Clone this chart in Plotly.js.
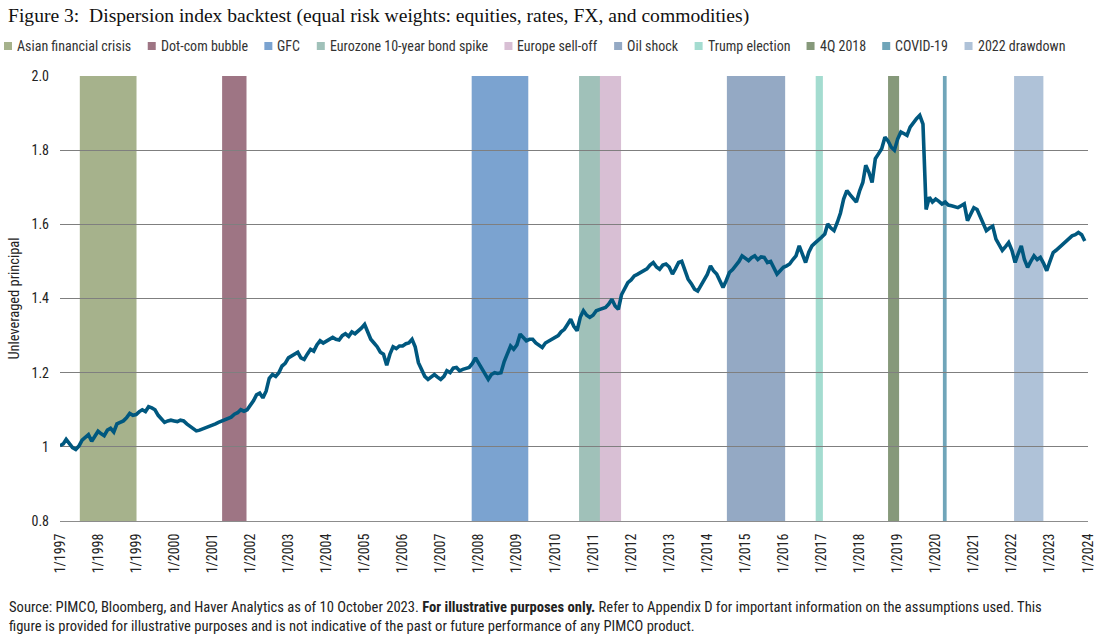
<!DOCTYPE html>
<html><head><meta charset="utf-8">
<script src="https://cdn.plot.ly/plotly-3.0.1.min.js"></script>
<style>html,body{margin:0;padding:0;background:#fff;}#chart{width:1100px;height:640px;}</style>
</head><body><div id="chart"></div>
<script>
// ---- data: monthly values (Jan..Dec) ----
const v1997 = [1.003, 1.008, 1.02, 1.01, 0.998, 0.993, 1.002, 1.018, 1.025, 1.033, 1.015, 1.03];
const v1998 = [1.042, 1.035, 1.03, 1.045, 1.05, 1.04, 1.062, 1.066, 1.07, 1.078, 1.09, 1.085];
const v1999 = [1.087, 1.095, 1.1, 1.095, 1.108, 1.105, 1.1, 1.085, 1.075, 1.066, 1.07, 1.072];
const v2000 = [1.07, 1.068, 1.072, 1.07, 1.062, 1.056, 1.05, 1.043, 1.045, 1.048, 1.052, 1.056];
const v2001 = [1.058, 1.062, 1.066, 1.07, 1.072, 1.076, 1.08, 1.088, 1.092, 1.1, 1.096, 1.1];
const v2002 = [1.112, 1.125, 1.14, 1.145, 1.132, 1.15, 1.185, 1.195, 1.19, 1.2, 1.218, 1.225];
const v2003 = [1.24, 1.245, 1.25, 1.255, 1.24, 1.236, 1.25, 1.263, 1.258, 1.275, 1.286, 1.28];
const v2004 = [1.285, 1.29, 1.295, 1.29, 1.288, 1.3, 1.305, 1.298, 1.31, 1.305, 1.312, 1.32];
const v2005 = [1.33, 1.31, 1.29, 1.28, 1.27, 1.255, 1.25, 1.22, 1.25, 1.27, 1.265, 1.272];
const v2006 = [1.272, 1.278, 1.28, 1.29, 1.27, 1.227, 1.21, 1.19, 1.182, 1.19, 1.195, 1.188];
const v2007 = [1.182, 1.19, 1.205, 1.2, 1.212, 1.214, 1.205, 1.209, 1.212, 1.214, 1.225, 1.24];
const v2008 = [1.225, 1.21, 1.195, 1.182, 1.195, 1.2, 1.198, 1.2, 1.23, 1.25, 1.272, 1.263];
const v2009 = [1.275, 1.304, 1.295, 1.286, 1.29, 1.29, 1.28, 1.275, 1.268, 1.28, 1.285, 1.29];
const v2010 = [1.295, 1.3, 1.31, 1.317, 1.33, 1.344, 1.325, 1.313, 1.35, 1.367, 1.355, 1.349];
const v2011 = [1.355, 1.367, 1.37, 1.372, 1.376, 1.385, 1.398, 1.38, 1.371, 1.41, 1.425, 1.443];
const v2012 = [1.45, 1.461, 1.465, 1.47, 1.475, 1.48, 1.49, 1.497, 1.485, 1.479, 1.49, 1.493];
const v2013 = [1.485, 1.466, 1.48, 1.497, 1.5, 1.475, 1.452, 1.44, 1.425, 1.42, 1.435, 1.452];
const v2014 = [1.465, 1.488, 1.475, 1.466, 1.45, 1.43, 1.448, 1.47, 1.478, 1.488, 1.5, 1.515];
const v2015 = [1.508, 1.502, 1.51, 1.515, 1.505, 1.512, 1.511, 1.497, 1.5, 1.485, 1.466, 1.475];
const v2016 = [1.484, 1.488, 1.493, 1.505, 1.515, 1.542, 1.52, 1.497, 1.525, 1.542, 1.55, 1.556];
const v2017 = [1.565, 1.574, 1.601, 1.59, 1.583, 1.605, 1.63, 1.668, 1.691, 1.68, 1.67, 1.66];
const v2018 = [1.69, 1.713, 1.759, 1.74, 1.713, 1.777, 1.79, 1.804, 1.835, 1.825, 1.808, 1.8];
const v2019 = [1.83, 1.849, 1.845, 1.84, 1.862, 1.875, 1.885, 1.894, 1.87, 1.64, 1.673, 1.66];
const v2020 = [1.668, 1.662, 1.655, 1.66, 1.652, 1.65, 1.648, 1.645, 1.65, 1.655, 1.61, 1.63];
const v2021 = [1.645, 1.64, 1.62, 1.6, 1.583, 1.59, 1.595, 1.56, 1.542, 1.53, 1.54, 1.551];
const v2022 = [1.53, 1.497, 1.52, 1.542, 1.505, 1.484, 1.5, 1.515, 1.505, 1.511, 1.495, 1.475];
const v2023 = [1.5, 1.524, 1.53, 1.538, 1.545, 1.555, 1.56, 1.569, 1.572, 1.578, 1.572, 1.555];

const seriesYears = [1997,1998,1999,2000,2001,2002,2003,2004,2005,2006,2007,2008,2009,2010,2011,2012,2013,2014,2015,2016,2017,2018,2019,2020,2021,2022,2023];
const seriesByYear = [v1997,v1998,v1999,v2000,v2001,v2002,v2003,v2004,v2005,v2006,v2007,v2008,v2009,v2010,v2011,v2012,v2013,v2014,v2015,v2016,v2017,v2018,v2019,v2020,v2021,v2022,v2023];

const tickYears = [1997,1998,1999,2000,2001,2002,2003,2004,2005,2006,2007,2008,2009,2010,2011,2012,2013,2014,2015,2016,2017,2018,2019,2020,2021,2022,2023,2024];
const yTickVals = [0.8, 1, 1.2, 1.4, 1.6, 1.8, 2.0];
const yTickText = ['0.8', '1', '1.2', '1.4', '1.6', '1.8', '2.0'];

const bandNames  = ['Asian financial crisis','Dot-com bubble','GFC','Eurozone 10-year bond spike','Europe sell-off','Oil shock','Trump election','4Q 2018','COVID-19','2022 drawdown'];
const bandStarts = ['1997-07-10','2001-04-05','2007-10-25','2010-08-20','2011-03-08','2014-07-08','2016-11-06','2018-10-01','2020-03-10','2022-01-22'];
const bandEnds   = ['1999-01-05','2001-11-25','2009-04-20','2011-05-05','2011-09-27','2016-01-18','2017-01-14','2019-01-15','2020-04-15','2022-10-30'];
const bandColors = ['#a6b28c','#9e7584','#7ba3d0','#a0c1b9','#d8bfd4','#94a9c4','#a4dcd0','#86997a','#70a5b9','#afc2d8'];

// ---- build ----
const SANS = "'Liberation Sans Narrow','Roboto Condensed','DejaVu Sans Condensed',Roboto,Arial,sans-serif";
const SERIF = "'Liberation Serif','DejaVu Serif',serif";
const W = 1100, H = 640;
const M = {l: 60, r: 12, t: 76, b: 119};
const PW = W - M.l - M.r, PH = H - M.t - M.b;
const px2paperX = px => (px - M.l) / PW;
const px2paperY = py => (H - M.b - py) / PH;

const xs = [], ys = [];
seriesYears.forEach((yr, i) => {
  seriesByYear[i].forEach((v, m) => {
    xs.push(yr + '-' + String(m + 1).padStart(2, '0') + '-01');
    ys.push(v);
  });
});

const shapes = bandNames.map((n, i) => ({
  type: 'rect', xref: 'x', yref: 'paper', x0: bandStarts[i], x1: bandEnds[i], y0: 0, y1: 1,
  fillcolor: bandColors[i], line: {width: 0}, layer: 'below'
}));

// legend (manual, measured)
const LEG_FONT = 14;
const ctx = document.createElement('canvas').getContext('2d');
ctx.font = LEG_FONT + 'px ' + SANS;
const widths = bandNames.map(n => ctx.measureText(n).width);
const sq = 8, sqGap = 4, legStart = 4, legEnd = 1064, legY = 46;
const used = widths.reduce((a, w) => a + sq + sqGap + w, 0);
const gap = Math.max(10, (legEnd - legStart - used) / (bandNames.length - 1));
const annotations = [];
let cx = legStart;
bandNames.forEach((n, i) => {
  shapes.push({type: 'rect', xref: 'paper', yref: 'paper',
    x0: px2paperX(cx), x1: px2paperX(cx + sq), y0: px2paperY(legY - sq / 2), y1: px2paperY(legY + sq / 2),
    fillcolor: bandColors[i], line: {width: 0}, layer: 'above'});
  annotations.push({xref: 'paper', yref: 'paper', x: px2paperX(cx + sq + sqGap - 1), y: px2paperY(legY),
    xanchor: 'left', yanchor: 'middle', showarrow: false, text: n,
    font: {family: SANS, size: LEG_FONT, color: '#333'}});
  cx += sq + sqGap + widths[i] + gap;
});

annotations.push({xref: 'paper', yref: 'paper', x: px2paperX(7), y: px2paperY(616),
  xanchor: 'left', yanchor: 'middle', align: 'left', showarrow: false,
  text: 'Source: PIMCO, Bloomberg, and Haver Analytics as of 10 October 2023. <b>For illustrative purposes only.</b> Refer to Appendix D for important information on the assumptions used. This<br>figure is provided for illustrative purposes and is not indicative of the past or future performance of any PIMCO product.',
  font: {family: SANS, size: 14.6, color: '#222'}});

const trace = {
  type: 'scatter', mode: 'lines', x: xs, y: ys,
  line: {color: '#00587f', width: 3.6}, hoverinfo: 'skip', showlegend: false
};

const layout = {
  width: W, height: H, margin: M,
  paper_bgcolor: '#fff', plot_bgcolor: 'rgba(0,0,0,0)',
  font: {family: SANS, size: 14, color: '#222'},
  showlegend: false,
  title: {text: 'Figure 3:&nbsp; Dispersion index backtest (equal risk weights: equities, rates, FX, and commodities)',
    font: {family: SERIF, size: 19.6, color: '#111'},
    x: 8 / W, xanchor: 'left', xref: 'container', y: 1 - 15 / H, yanchor: 'middle', yref: 'container'},
  xaxis: {type: 'date', range: ['1997-01-01', '2024-01-01'],
    tickmode: 'array', tickvals: tickYears.map(y => y + '-01-01'), ticktext: tickYears.map(y => '1/' + y),
    tickangle: -90, showgrid: false, showline: true, linecolor: '#8c8c8c', linewidth: 1,
    ticks: '', ticklabelstandoff: 6, zeroline: false, fixedrange: true,
    tickfont: {family: SANS, size: 14, color: '#222'}},
  yaxis: {range: [0.8, 2.0], tickmode: 'array', tickvals: yTickVals, ticktext: yTickText,
    showgrid: true, gridcolor: '#7f7f7f', gridwidth: 1, zeroline: false, showline: false,
    ticks: '', ticklabelstandoff: 10, fixedrange: true,
    tickfont: {family: SANS, size: 14, color: '#222'},
    title: {text: 'Unleveraged principal', font: {family: SANS, size: 14.4, color: '#222'}, standoff: 8}},
  shapes: shapes,
  annotations: annotations
};

Plotly.newPlot('chart', [trace], layout, {staticPlot: true, displayModeBar: false});
</script>
</body></html>
